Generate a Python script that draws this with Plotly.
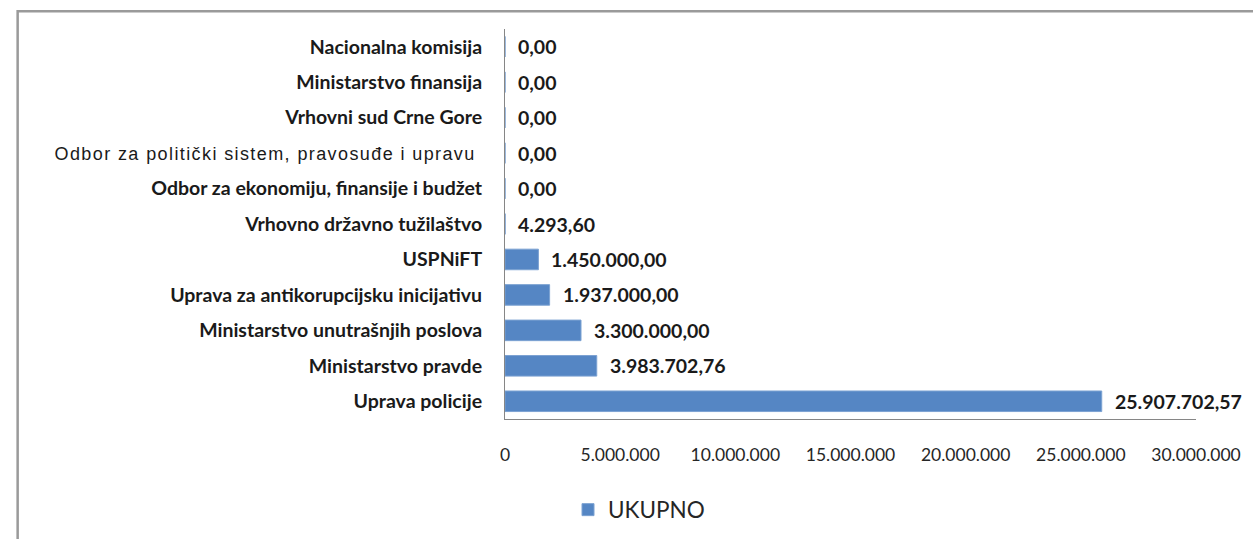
import plotly.graph_objects as go

# ---- data (bottom to top) ----
categories = [
    "Uprava policije",
    "Ministarstvo pravde",
    "Ministarstvo unutrašnjih poslova",
    "Uprava za antikorupcijsku inicijativu",
    "USPNiFT",
    "Vrhovno državno tužilaštvo",
    "Odbor za ekonomiju, finansije i budžet",
    "Odbor za politički sistem, pravosuđe i upravu",
    "Vrhovni sud Crne Gore",
    "Ministarstvo finansija",
    "Nacionalna komisija",
]
values = [25907702.57, 3983702.76, 3300000.00, 1937000.00, 1450000.00,
          4293.60, 0.00, 0.00, 0.00, 0.00, 0.00]
series_name = "UKUPNO"
x_tickvals = [0, 5000000, 10000000, 15000000, 20000000, 25000000, 30000000]
x_ticktext = ["0", "5.000.000", "10.000.000", "15.000.000", "20.000.000",
              "25.000.000", "30.000.000"]
plain_labels = {"Odbor za politički sistem, pravosuđe i upravu"}


def eu(v):
    s = f"{v:,.2f}"
    return s.replace(",", "X").replace(".", ",").replace("X", ".")


ticktext_y = []
for c in categories:
    if c in plain_labels:
        ticktext_y.append(
            '<span style="font-family:Liberation Sans;font-weight:normal;'
            'font-size:18px;letter-spacing:1.4px">' + c + '\u00a0</span>')
    else:
        ticktext_y.append(c)

BAR = "#5586C4"

fig = go.Figure()
fig.add_trace(go.Bar(
    y=categories, x=values, orientation="h", name=series_name,
    marker=dict(color=BAR, line=dict(color="#7ca2d2", width=1)),
    width=0.58, showlegend=True,
))

for c, v in zip(categories, values):
    fig.add_annotation(
        x=v, y=c, xref="x", yref="y", text=eu(v), showarrow=False,
        xanchor="left", yanchor="middle", xshift=11,
        font=dict(family="Lato", size=19.5, color="#1a1a1a", weight="bold"),
    )

# outer chart border (left and top visible)
L, R, T, B = 505, 1205, 29, 419
W, H = R - L, B - T
fig.add_shape(
    type="rect", xref="paper", yref="paper",
    x0=(11.3 - L) / W, x1=(1270 - L) / W,
    y0=(B - 560) / H, y1=(B - 11.3) / H,
    line=dict(color="#9a9a9a", width=2.5), fillcolor="rgba(0,0,0,0)",
    layer="below",
)

fig.update_layout(
    width=1253, height=539,
    margin=dict(l=L, r=1253 - R, t=T, b=539 - B),
    paper_bgcolor="white", plot_bgcolor="white",
    showlegend=True,
    legend=dict(
        orientation="h", xref="container", yref="container",
        x=568 / 1253, y=1 - 510 / 539, xanchor="left", yanchor="middle",
        font=dict(family="Lato", size=22.5, color="#262626"),
        itemwidth=30,
    ),
    xaxis=dict(
        range=[0, 30000000], tickvals=x_tickvals, ticktext=x_ticktext,
        showgrid=False, zeroline=False, showline=True,
        linecolor="#868686", linewidth=1, ticks="",
        tickfont=dict(family="Lato", size=17.5, color="#262626"),
        ticklabelstandoff=20,
    ),
    yaxis=dict(
        type="category", categoryorder="array", categoryarray=categories,
        tickvals=categories, ticktext=ticktext_y,
        showgrid=False, zeroline=False, showline=True,
        linecolor="#868686", linewidth=1, ticks="",
        tickfont=dict(family="Lato", size=19.5, color="#1a1a1a", weight="bold"),
        ticklabelstandoff=18,
    ),
)

fig.write_html(
    "out.html",
    config={"displayModeBar": False},
    post_script="document.body.style.margin='0';"
                "document.body.style.overflow='hidden';",
)
